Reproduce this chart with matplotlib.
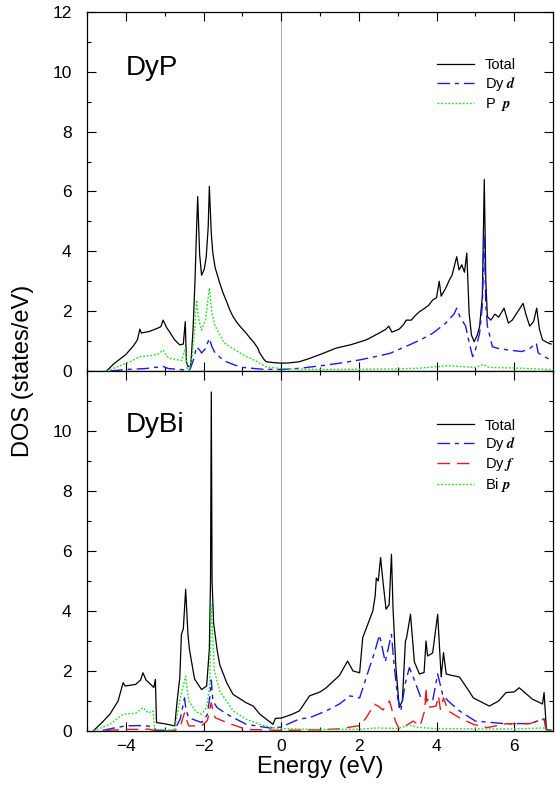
import numpy as np
import matplotlib
matplotlib.use("Agg")
import matplotlib.pyplot as plt
from matplotlib.ticker import MultipleLocator

plt.rcParams['font.family'] = ['Liberation Sans', 'DejaVu Sans']
plt.rcParams['mathtext.fontset'] = 'stix'

# ---- DyP ----
dyp_total_e = [-4.50, -4.30, -4.00, -3.80, -3.70, -3.64, -3.60, -3.40, -3.20, -3.10, -3.04, -2.95,
               -2.87, -2.75, -2.61, -2.52, -2.47, -2.44, -2.40, -2.33, -2.27, -2.22, -2.18, -2.15,
               -2.10, -2.05, -1.98, -1.93, -1.88, -1.85, -1.80, -1.76, -1.70, -1.58, -1.50, -1.40,
               -1.32, -1.24, -1.15, -1.05, -0.90, -0.80, -0.70, -0.60, -0.56, -0.45, -0.39, -0.20,
               0.00, 0.20, 0.47, 0.73, 1.00, 1.33, 1.40, 1.80, 2.19, 2.50, 2.70, 2.77, 2.85, 2.95,
               3.04, 3.15, 3.22, 3.35, 3.45, 3.56, 3.70, 3.80, 3.90, 4.00, 4.07, 4.12, 4.25, 4.33,
               4.40, 4.52, 4.58, 4.65, 4.72, 4.78, 4.84, 4.90, 4.97, 5.05, 5.11, 5.18, 5.23, 5.27,
               5.31, 5.40, 5.50, 5.60, 5.74, 5.85, 5.95, 6.10, 6.23, 6.30, 6.40, 6.50, 6.58, 6.65,
               6.73, 6.85, 6.95]
dyp_total = [0.00, 0.25, 0.55, 0.85, 1.05, 1.40, 1.27, 1.32, 1.42, 1.48, 1.70, 1.45,
             1.30, 1.05, 0.87, 0.90, 1.65, 0.30, 0.15, 0.15, 1.37, 3.00, 4.70, 5.83,
             3.90, 3.20, 3.40, 3.82, 4.80, 6.17, 4.60, 3.94, 3.45, 2.93, 2.62, 2.30,
             2.03, 1.82, 1.64, 1.48, 1.26, 1.10, 0.95, 0.76, 0.62, 0.40, 0.31, 0.28,
             0.26, 0.27, 0.31, 0.42, 0.55, 0.72, 0.76, 0.88, 1.04, 1.25, 1.40, 1.50, 1.30, 1.35,
             1.40, 1.55, 1.70, 1.70, 1.85, 1.98, 2.10, 2.20, 2.37, 2.45, 3.00, 2.50, 2.80, 3.04,
             3.20, 3.82, 3.38, 3.55, 3.30, 3.94, 1.93, 1.20, 0.98, 1.20, 1.48, 2.50, 6.40, 3.00,
             1.82, 1.70, 1.90, 1.80, 2.10, 1.60, 1.70, 2.00, 2.26, 1.90, 1.50, 1.65, 2.10, 1.40,
             1.04, 0.95, 0.90]

dyp_d_e = [-4.40, -4.00, -3.50, -3.04, -2.90, -2.60, -2.45, -2.35, -2.25, -2.18, -2.10, -2.05,
           -1.95, -1.85, -1.78, -1.70, -1.47, -1.20, -1.00, -0.50, 0.00, 0.47, 1.00, 1.50,
           2.02, 2.50, 2.80, 3.30, 3.60, 3.90, 4.24, 4.45, 4.52, 4.60, 4.75, 4.85, 4.93, 5.00,
           5.11, 5.18, 5.23, 5.27, 5.31, 5.44, 5.60, 5.85, 6.20, 6.40, 6.57, 6.62, 6.75, 6.95]
dyp_d = [0.00, 0.05, 0.08, 0.15, 0.08, 0.05, 0.03, 0.05, 0.40, 0.81, 0.70, 0.60,
         0.75, 1.09, 0.80, 0.60, 0.34, 0.20, 0.12, 0.06, 0.05, 0.09, 0.17, 0.26,
         0.37, 0.50, 0.59, 0.87, 1.05, 1.26, 1.60, 1.90, 2.10, 1.82, 1.50, 0.90, 0.48, 0.70,
         1.26, 2.20, 4.50, 2.20, 1.50, 0.81, 0.75, 0.70, 0.65, 0.75, 0.93, 0.60, 0.50, 0.36]

dyp_p_e = [-4.50, -4.20, -3.90, -3.64, -3.40, -3.15, -3.04, -2.95, -2.87, -2.56, -2.47, -2.42,
           -2.38, -2.30, -2.22, -2.18, -2.12, -2.05, -1.95, -1.85, -1.78, -1.70, -1.47, -1.00,
           -0.60, -0.55, -0.39, 0.00, 1.00, 2.00, 3.00, 3.50, 4.00, 4.30, 4.60, 5.00, 5.20,
           5.35, 6.00, 6.95]
dyp_p = [0.00, 0.15, 0.30, 0.48, 0.50, 0.58, 0.70, 0.50, 0.42, 0.35, 0.75, 0.10,
         0.02, 0.40, 1.50, 2.37, 1.70, 1.37, 1.70, 2.77, 1.90, 1.50, 0.94, 0.55,
         0.30, 0.25, 0.14, 0.08, 0.05, 0.06, 0.07, 0.09, 0.14, 0.18, 0.15, 0.12, 0.22,
         0.12, 0.10, 0.05]

# ---- DyBi ----
dybi_total_e = [-4.84, -4.60, -4.41, -4.20, -4.07, -4.02, -3.75, -3.62, -3.56, -3.48, -3.40, -3.28,
                -3.24, -3.21, -3.00, -2.74, -2.68, -2.61, -2.57, -2.52, -2.46, -2.40, -2.36, -2.23,
                -2.05, -1.92, -1.85, -1.82, -1.80, -1.78, -1.74, -1.65, -1.58, -1.40, -1.24, -0.90,
                -0.72, -0.55, -0.21, -0.15, 0.00, 0.27, 0.47, 0.73, 1.00, 1.16, 1.50, 1.71, 1.85,
                2.02, 2.10, 2.36, 2.42, 2.45, 2.50, 2.56, 2.62, 2.70, 2.78, 2.84, 2.88, 2.95, 3.04,
                3.12, 3.20, 3.23, 3.33, 3.43, 3.56, 3.68, 3.73, 3.77, 3.90, 4.03, 4.12, 4.18, 4.25,
                4.40, 4.59, 4.80, 4.95, 5.36, 5.60, 5.79, 6.00, 6.13, 6.30, 6.47, 6.73, 6.77, 6.83,
                6.95]
dybi_total = [0.00, 0.30, 0.56, 1.00, 1.61, 1.50, 1.55, 1.70, 1.94, 1.70, 1.60, 1.45,
              1.72, 0.28, 0.24, 0.17, 1.00, 1.78, 3.22, 3.40, 4.72, 3.20, 2.70, 1.73,
              1.38, 1.50, 2.72, 5.00, 11.30, 5.00, 3.60, 2.70, 2.20, 1.60, 1.22, 0.94,
              0.83, 0.56, 0.22, 0.42, 0.43, 0.55, 0.67, 1.17, 1.30, 1.44, 1.85, 2.33, 2.00,
              1.94, 3.11, 4.00, 4.50, 5.10, 5.00, 5.78, 5.00, 4.06, 4.20, 5.89, 4.10, 2.20, 0.78,
              1.00, 3.00, 3.11, 3.89, 2.30, 1.90, 1.95, 3.00, 2.50, 2.60, 3.89, 1.80, 2.61, 1.90,
              1.85, 1.80, 1.40, 1.10, 0.83, 1.00, 1.28, 1.30, 1.44, 1.25, 1.06, 0.90, 1.28, 0.04,
              0.03]

dybi_d_e = [-4.60, -4.30, -4.00, -3.60, -3.30, -3.22, -2.75, -2.60, -2.49, -2.45, -2.38, -2.05,
            -1.90, -1.83, -1.80, -1.76, -1.65, -1.40, -0.90, -0.30, 0.00, 0.47, 0.73, 1.16,
            1.50, 1.77, 2.02, 2.27, 2.40, 2.53, 2.60, 2.68, 2.80, 2.84, 2.90, 3.00, 3.08, 3.20,
            3.30, 3.40, 3.60, 3.90, 4.03, 4.16, 4.30, 4.59, 5.00, 5.79, 6.40, 6.77, 6.83, 6.95]
dybi_d = [0.02, 0.10, 0.17, 0.18, 0.15, 0.02, 0.02, 0.40, 1.10, 0.70, 0.44, 0.28,
          0.55, 1.20, 1.70, 1.00, 0.78, 0.56, 0.22, 0.10, 0.13, 0.40, 0.44, 0.67,
          0.90, 1.17, 1.10, 2.10, 2.60, 3.20, 2.80, 2.30, 3.00, 3.22, 2.30, 1.10, 0.67, 1.60,
          2.11, 1.80, 1.10, 1.00, 1.90, 1.20, 1.00, 0.67, 0.33, 0.24, 0.25, 0.40, 0.05, 0.04]

dybi_f_e = [-4.50, -4.00, -3.40, -3.22, -2.75, -2.60, -2.49, -2.43, -2.38, -2.05, -1.90, -1.80,
            -1.76, -1.70, -1.40, -0.90, 0.00, 1.00, 1.50, 2.02, 2.19, 2.40, 2.50, 2.62, 2.79,
            2.86, 2.95, 3.04, 3.20, 3.40, 3.58, 3.70, 3.73, 3.76, 3.99, 4.05, 4.10, 4.18, 4.30,
            4.59, 4.95, 5.30, 5.79, 6.40, 6.77, 6.83, 6.95]
dybi_f = [0.02, 0.05, 0.06, 0.00, 0.00, 0.15, 0.60, 0.35, 0.17, 0.17, 0.35, 0.94,
          0.70, 0.44, 0.28, 0.05, 0.02, 0.04, 0.07, 0.18, 0.44, 0.89, 0.83, 0.70, 1.00,
          0.67, 0.30, 0.07, 0.17, 0.33, 0.17, 0.70, 1.44, 0.78, 0.83, 1.17, 0.72, 1.10, 0.67,
          0.44, 0.22, 0.11, 0.24, 0.24, 0.40, 0.00, 0.00]

dybi_p_e = [-4.84, -4.41, -4.07, -3.75, -3.56, -3.42, -3.30, -3.26, -2.75, -2.60, -2.46, -2.38,
            -2.20, -2.05, -1.92, -1.84, -1.80, -1.72, -1.58, -1.24, -0.90, -0.55, -0.21, 0.00,
            1.00, 2.00, 2.50, 3.00, 3.30, 3.50, 4.00, 5.00, 6.00, 6.80, 6.95]
dybi_p = [0.00, 0.22, 0.56, 0.59, 0.78, 0.60, 0.67, 0.05, 0.02, 1.10, 1.83, 1.00,
          0.65, 0.56, 0.78, 1.50, 4.20, 2.00, 1.33, 0.67, 0.39, 0.22, 0.11, 0.08,
          0.05, 0.06, 0.10, 0.08, 0.20, 0.12, 0.08, 0.07, 0.07, 0.10, 0.02]

BLUE = '#1a1ae6'
RED = '#e61a1a'
GREEN = '#22e022'


def style_axes(ax):
    ax.set_xlim(-5, 7)
    ax.set_ylim(0, 12)
    ax.xaxis.set_major_locator(MultipleLocator(2))
    ax.xaxis.set_minor_locator(MultipleLocator(1))
    ax.yaxis.set_major_locator(MultipleLocator(2))
    ax.yaxis.set_minor_locator(MultipleLocator(1))
    ax.tick_params(which='both', direction='in', top=True, right=True, width=0.8,
                   labelsize=12.5)
    ax.tick_params(which='major', length=6.7)
    ax.tick_params(which='minor', length=3.2)
    ax.tick_params(axis='y', pad=11)
    ax.tick_params(axis='x', pad=6)
    for s in ax.spines.values():
        s.set_linewidth(0.9)
    ax.axvline(0, color='0.7', lw=0.8, zorder=0)


def legend(ax, top):
    ax.legend(loc='upper left', bbox_to_anchor=(0.75, top), frameon=False,
              borderpad=0, borderaxespad=0, handlelength=2.6, handletextpad=0.7,
              labelspacing=0.2, fontsize=10.5)


def main():
    fig = plt.figure(figsize=(5.55, 7.87), dpi=100)
    ax1 = fig.add_axes([0.1568, 0.5286, 0.8396, 0.4562])
    ax2 = fig.add_axes([0.1568, 0.0712, 0.8396, 0.4574])

    ax1.plot(dyp_total_e, dyp_total, color='black', lw=0.9, label='Total')
    ax1.plot(dyp_d_e, dyp_d, color=BLUE, lw=1.0, dashes=[9, 3.5, 3, 3.5],
             label=r'Dy $\mathbfit{d}$')
    ax1.plot(dyp_p_e, dyp_p, color=GREEN, lw=1.0, dashes=[1.3, 1.3],
             label=r'P  $\mathbfit{p}$')

    ax2.plot(dybi_total_e, dybi_total, color='black', lw=0.9, label='Total')
    ax2.plot(dybi_d_e, dybi_d, color=BLUE, lw=1.0, dashes=[9, 3.5, 3, 3.5],
             label=r'Dy $\mathbfit{d}$')
    ax2.plot(dybi_f_e, dybi_f, color=RED, lw=1.0, dashes=[9, 5],
             label=r'Dy $\mathbfit{f}$')
    ax2.plot(dybi_p_e, dybi_p, color=GREEN, lw=1.0, dashes=[1.3, 1.3],
             label=r'Bi $\mathbfit{p}$')

    for ax in (ax1, ax2):
        style_axes(ax)
    legend(ax1, 0.872)
    legend(ax2, 0.868)

    ax1.tick_params(labelbottom=False)
    ax2.set_yticks([0, 2, 4, 6, 8, 10])

    ax1.text(-4.0, 9.9, 'DyP', fontsize=20, va='baseline', ha='left')
    ax2.text(-4.0, 9.95, 'DyBi', fontsize=20, va='baseline', ha='left')

    ax2.set_xlabel('Energy (eV)', fontsize=17, labelpad=1)
    fig.text(23 / 555, 1 - 371 / 787, 'DOS (states/eV)', rotation=90,
             fontsize=17, va='center', ha='center')

    fig.savefig('out.png', dpi=100)


if __name__ == '__main__':
    main()
